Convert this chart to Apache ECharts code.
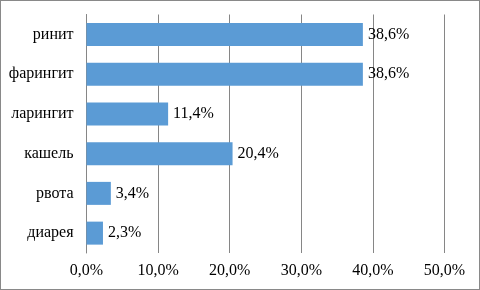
<!DOCTYPE html>
<html>
<head>
<meta charset="utf-8">
<script src="https://cdn.jsdelivr.net/npm/echarts@6/dist/echarts.min.js"></script>
<style>
  html, body { margin: 0; padding: 0; background: #fff; }
  #wrap { width: 480px; height: 290px; box-sizing: border-box; border: 1px solid #898989; }
  #chart { width: 478px; height: 288px; }
</style>
</head>
<body>
<div id="wrap"><div id="chart"></div></div>
<script>
// categories top to bottom as shown
const categories = ['ринит', 'фарингит', 'ларингит', 'кашель', 'рвота', 'диарея']
const values = [38.6, 38.6, 11.4, 20.4, 3.4, 2.3]
const tickLabels = ['0,0%', '10,0%', '20,0%', '30,0%', '40,0%', '50,0%']

const fmt = (v) => v.toFixed(1).replace('.', ',') + '%'
const font = '"Liberation Serif", "Times New Roman", serif'

const chart = echarts.init(document.getElementById('chart'))

const option = {
  animation: false,
  textStyle: { fontFamily: font },
  grid: {
    left: 85.5,
    right: 34.5,
    top: 13.5,
    bottom: 36,
  },
  xAxis: {
    type: 'value',
    min: 0,
    max: 50,
    interval: 10,
    axisLine: { show: false },
    axisTick: { show: false },
    splitLine: { show: true, lineStyle: { color: '#868686', width: 1 } },
    axisLabel: {
      margin: 10,
      fontSize: 16,
      fontFamily: font,
      color: '#000',
      formatter: (v) => tickLabels[Math.round(v / 10)],
    },
  },
  yAxis: {
    type: 'category',
    inverse: true,
    data: categories,
    axisLine: { show: true, lineStyle: { color: '#868686', width: 1 } },
    axisTick: { show: false },
    axisLabel: {
      margin: 13,
      fontSize: 16,
      fontFamily: font,
      color: '#000',
    },
  },
  series: [
    {
      type: 'bar',
      data: values,
      barWidth: 23,
      itemStyle: { color: '#5B9BD5' },
      label: {
        show: true,
        position: 'right',
        distance: 5,
        fontSize: 16,
        fontFamily: font,
        color: '#000',
        formatter: (p) => fmt(p.value),
      },
    },
  ],
}

chart.setOption(option)
</script>
</body>
</html>
